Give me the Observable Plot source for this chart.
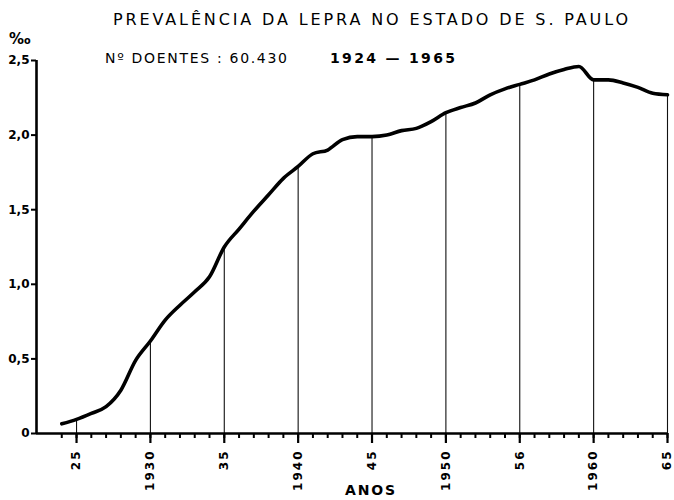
<!DOCTYPE html>
<html>
<head>
<meta charset="utf-8">
<script src="https://cdn.jsdelivr.net/npm/d3@7"></script>
<script src="https://cdn.jsdelivr.net/npm/@observablehq/plot@0.6"></script>
<style>
  html, body { margin: 0; padding: 0; background: #fff; }
  svg { display: block; }
</style>
</head>
<body>
<div id="chart"></div>
<script>
// ---- data ----
const years = [1924,1925,1926,1927,1928,1929,1930,1931,1932,1933,1934,1935,1936,1937,1938,1939,1940,1941,1942,1943,1944,1945,1946,1947,1948,1949,1950,1951,1952,1953,1954,1955,1956,1957,1958,1959,1960,1961,1962,1963,1964,1965];
const prevalence = [0.065,0.095,0.135,0.18,0.29,0.49,0.62,0.76,0.86,0.95,1.05,1.25,1.37,1.49,1.60,1.71,1.79,1.875,1.90,1.97,1.99,1.99,2.00,2.03,2.045,2.09,2.15,2.185,2.215,2.27,2.31,2.34,2.37,2.41,2.44,2.46,2.37,2.37,2.35,2.32,2.28,2.27];
const majorYears = [1925,1930,1935,1940,1945,1950,1955,1960,1965];
const majorLabels = ["25","1930","35","1940","45","1950","56","1960","65"];
const yTicks = [0,0.5,1,1.5,2,2.5];
const yTickLabels = ["0","0,5","1,0","1,5","2,0","2,5"];
const titleText = "PREVALÊNCIA DA LEPRA NO ESTADO DE S. PAULO";
const subtitleText = "Nº DOENTES : 60.430";
const periodText = "1924 — 1965";
const unitText = "‰";
const xLabelText = "ANOS";

const data = years.map((y, i) => ({year: y, value: prevalence[i]}));
const xMin = 1922.29;

const W = 674, H = 500;
const chart = Plot.plot({
  width: W, height: H,
  marginLeft: 36, marginRight: 7, marginTop: 60, marginBottom: 67,
  style: {fontFamily: "DejaVu Sans, sans-serif", color: "#000", background: "#fff"},
  x: {domain: [xMin, 1965]},
  y: {domain: [0, 2.5]},
  marks: [
    Plot.ruleX(data.filter(d => majorYears.includes(d.year)), {x: "year", y1: 0, y2: "value", stroke: "#111", strokeWidth: 1.1}),
    Plot.line(data, {x: "year", y: "value", stroke: "#000", strokeWidth: 3.6, curve: "monotone-x", strokeLinejoin: "round", strokeLinecap: "round"}),
    Plot.ruleY([0], {stroke: "#000", strokeWidth: 2.6}),
    Plot.ruleX([xMin], {y1: 0, y2: 2.5, stroke: "#000", strokeWidth: 2.6}),
    Plot.axisY({ticks: yTicks, tickFormat: d => yTickLabels[yTicks.indexOf(d)], tickSize: 5, tickPadding: 2, fontSize: 12, fontWeight: "bold", label: null, strokeWidth: 2}),
    Plot.axisX({ticks: years, tickSize: 5, tickFormat: () => "", label: null, strokeWidth: 2}),
    Plot.axisX({ticks: majorYears, tickSize: 10, tickPadding: 6, tickRotate: -90, tickFormat: d => majorLabels[majorYears.indexOf(d)], fontSize: 12, fontWeight: "bold", label: null, strokeWidth: 2.2})
  ]
});
document.getElementById("chart").appendChild(chart);

const svg = d3.select(chart);
svg.selectAll('[aria-label="x-axis tick label"] text').style("letter-spacing", "2px");

function addText(str, x, y, opts) {
  const t = svg.append("text")
    .attr("x", x).attr("y", y)
    .attr("text-anchor", "start")
    .attr("fill", "#000")
    .attr("font-family", "DejaVu Sans, sans-serif")
    .attr("font-size", opts.size)
    .attr("font-weight", opts.weight || "normal")
    .text(str);
  if (opts.len) t.attr("textLength", opts.len).attr("lengthAdjust", "spacing");
  return t;
}
addText(titleText, 113, 25, {size: 16, len: 515});
addText(subtitleText, 105, 63, {size: 14, len: 182});
addText(periodText, 330, 63, {size: 14, weight: "bold", len: 125});
addText(unitText, 9, 44, {size: 15, weight: "bold"});
addText(xLabelText, 345, 495, {size: 14, weight: "bold", len: 50});
</script>
</body>
</html>
